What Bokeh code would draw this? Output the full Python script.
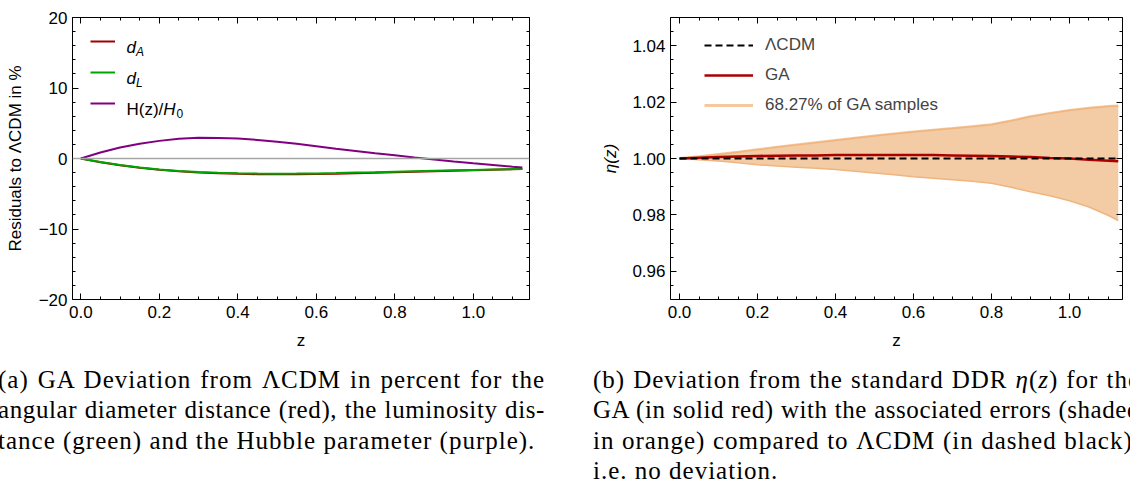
from bokeh.plotting import figure
from bokeh.models import (Range1d, LinearAxis, FixedTicker, Span, Legend, LegendItem, Label, Div,
                          PrintfTickFormatter)
from bokeh.layouts import column, row
from bokeh.embed import file_html
from bokeh.resources import INLINE

# ---------------- data: panel (a) ----------------
z_a = [0.0, 0.05, 0.1, 0.15, 0.2, 0.25, 0.3, 0.35, 0.4, 0.45, 0.5, 0.55, 0.6,
       0.65, 0.7, 0.75, 0.8, 0.85, 0.9, 0.95, 1.0, 1.05, 1.1, 1.125]
res_dA = [0.0, -0.52, -0.95, -1.31, -1.6, -1.82, -1.99, -2.1, -2.18, -2.22, -2.24, -2.23,
          -2.2, -2.15, -2.09, -2.02, -1.95, -1.88, -1.81, -1.74, -1.67, -1.6, -1.53, -1.5]
res_dL = [0.0, -0.5, -0.92, -1.27, -1.55, -1.76, -1.92, -2.03, -2.1, -2.14, -2.15, -2.14,
          -2.11, -2.06, -2.0, -1.94, -1.87, -1.8, -1.74, -1.68, -1.62, -1.56, -1.5, -1.48]
res_H = [0.0, 0.85, 1.55, 2.1, 2.5, 2.8, 2.95, 2.92, 2.82, 2.63, 2.38, 2.08, 1.73,
         1.38, 1.07, 0.76, 0.46, 0.14, -0.14, -0.41, -0.67, -0.92, -1.17, -1.29]

# ---------------- data: panel (b) ----------------
z_b = [0.0, 0.05, 0.1, 0.15, 0.2, 0.25, 0.3, 0.35, 0.4, 0.45, 0.5, 0.55, 0.6,
       0.65, 0.7, 0.75, 0.8, 0.85, 0.9, 0.95, 1.0, 1.05, 1.1, 1.125]
eta_ga = [1.0, 1.0003, 1.0005, 1.0007, 1.0009, 1.001, 1.0011, 1.0011, 1.0012, 1.0012, 1.0012,
          1.0012, 1.0012, 1.0012, 1.0011, 1.001, 1.0009, 1.0007, 1.0005, 1.0002, 1.0, 0.9996,
          0.9992, 0.999]
eta_up = [1.0, 1.0006, 1.0014, 1.0022, 1.0031, 1.004, 1.0048, 1.0056, 1.0064, 1.0072, 1.008,
          1.0087, 1.0094, 1.01, 1.0106, 1.0113, 1.012, 1.0133, 1.0148, 1.016, 1.017, 1.0178,
          1.0184, 1.0186]
eta_lo = [1.0, 0.9996, 0.9991, 0.9985, 0.9978, 0.9973, 0.9969, 0.9965, 0.9961, 0.9955, 0.9949,
          0.9942, 0.9935, 0.993, 0.9925, 0.9919, 0.9912, 0.9898, 0.9882, 0.9868, 0.985, 0.9828,
          0.9798, 0.978]
z_lcdm = [0.0, 1.125]
eta_lcdm = [1.0, 1.0]

x_major = [0.0, 0.2, 0.4, 0.6, 0.8, 1.0]
x_minor = [round(0.05 * i, 2) for i in range(0, 23)]
ya_major = [-20, -10, 0, 10, 20]
ya_minor = list(range(-20, 21, 2))
yb_major = [0.96, 0.98, 1.00, 1.02, 1.04]
yb_minor = [round(0.95 + 0.005 * i, 3) for i in range(0, 21)]

FONT = "Liberation Sans"
FS = "17px"


def style(p, xmaj, xmin, ymaj, ymin, xfmt, yfmt, overrides=None):
    p.xgrid.visible = False
    p.ygrid.visible = False
    p.outline_line_color = None
    p.background_fill_color = "white"
    p.border_fill_color = "white"
    bottom = p.below[0]
    left = p.left[0]
    top = LinearAxis(axis_label=None)
    right = LinearAxis(axis_label=None)
    p.add_layout(top, "above")
    p.add_layout(right, "right")
    for ax in (bottom, left, top, right):
        is_x = ax in (bottom, top)
        ax.ticker = FixedTicker(ticks=xmaj if is_x else ymaj, minor_ticks=xmin if is_x else ymin)
        ax.formatter = PrintfTickFormatter(format=xfmt if is_x else yfmt)
        ax.axis_line_color = "black"
        ax.axis_line_width = 1
        ax.major_tick_line_color = "black"
        ax.minor_tick_line_color = "black"
        ax.major_tick_in = 6
        ax.major_tick_out = 0
        ax.minor_tick_in = 3
        ax.minor_tick_out = 0
        ax.major_label_text_font = FONT
        ax.major_label_text_font_size = FS
        ax.major_label_text_color = "black"
        ax.axis_label_text_font = FONT
        ax.axis_label_text_font_size = FS
        ax.axis_label_text_font_style = "normal"
        ax.axis_label_text_color = "black"
    for ax in (top, right):
        ax.major_label_text_color = None
        ax.major_label_text_font_size = "1px"
        ax.major_label_standoff = 0
    bottom.major_label_standoff = 6
    left.major_label_standoff = 5
    if overrides:
        left.major_label_overrides = overrides
    return bottom, left


# ---------------- panel (a) ----------------
fa = figure(width=561, height=357, x_range=Range1d(-0.0211, 1.1432), y_range=Range1d(-20, 20),
            output_backend="svg", toolbar_location=None,
            min_border_left=72, min_border_right=32, min_border_top=17, min_border_bottom=58)
ba, la = style(fa, x_major, x_minor, ya_major, ya_minor, "%.1f", "%d",
               overrides={-20: "\u221220", -10: "\u221210"})
ba.axis_label = "z"
ba.axis_label_standoff = 10
la.axis_label = "Residuals to \u039bCDM in %"
la.axis_label_standoff = 11

fa.add_layout(Span(location=0, dimension="width", line_color="#a6a6a6", line_width=1.5))
r_dA = fa.line(z_a, res_dA, line_color="#a00000", line_width=2)
r_dL = fa.line(z_a, res_dL, line_color="#00a400", line_width=2)
r_H = fa.line(z_a, res_H, line_color="#800080", line_width=2)

leg_a = Legend(items=[LegendItem(label=" ", renderers=[r_dA]),
                      LegendItem(label=" ", renderers=[r_dL]),
                      LegendItem(label=" ", renderers=[r_H])],
               location=(18, 186), glyph_width=25, glyph_height=20, label_height=20,
               spacing=11, padding=0, margin=0, label_text_font_size=FS,
               background_fill_alpha=0, border_line_alpha=0)
fa.add_layout(leg_a)


def lab(p, x, y, t, size=FS, style_="normal"):
    p.add_layout(Label(x=x, y=y, x_units="screen", y_units="screen", text=t,
                       text_font=FONT, text_font_size=size, text_font_style=style_,
                       text_color="black", text_align="left", text_baseline="alphabetic"))


lab(fa, 54, 252, "d", style_="italic")
lab(fa, 63.5, 248, "A", size="12px", style_="italic")
lab(fa, 54, 221, "d", style_="italic")
lab(fa, 63.5, 217, "L", size="12px", style_="italic")
lab(fa, 54, 190, "H(z)/")
lab(fa, 90.8, 190, "H", style_="italic")
lab(fa, 104, 186, "0", size="12px")

# ---------------- panel (b) ----------------
fb = figure(width=569, height=357, x_range=Range1d(-0.0231, 1.1359), y_range=Range1d(0.95, 1.05),
            output_backend="svg", toolbar_location=None,
            min_border_left=109, min_border_right=8, min_border_top=17, min_border_bottom=58)
bb, lb = style(fb, x_major, x_minor, yb_major, yb_minor, "%.1f", "%.2f")
bb.axis_label = "z"
bb.axis_label_standoff = 10
lb.axis_label = "\u03b7(z)"
lb.axis_label_text_font_style = "italic"
lb.axis_label_standoff = 9

r_band_key = fb.line(z_b, eta_up, line_color="#f5c89e", line_width=3)
fb.varea(x=z_b, y1=eta_lo, y2=eta_up, fill_color="#f3cba5", fill_alpha=1)
fb.line(z_b, eta_up, line_color="#f0b57f", line_width=1.5)
fb.line(z_b, eta_lo, line_color="#f0b57f", line_width=1.5)
r_ga = fb.line(z_b, eta_ga, line_color="#aa0000", line_width=2.5)
r_l = fb.line(z_lcdm, eta_lcdm, line_color="black", line_width=2, line_dash="7 4")

leg_b = Legend(items=[LegendItem(label="\u039bCDM", renderers=[r_l]),
                      LegendItem(label="GA", renderers=[r_ga]),
                      LegendItem(label="68.27% of GA samples", renderers=[r_band_key])],
               location=(34, 184), glyph_width=49, glyph_height=20, label_height=20,
               spacing=10, padding=0, margin=0, label_standoff=12,
               label_text_font=FONT, label_text_font_size=FS,
               background_fill_alpha=0, border_line_alpha=0)
fb.add_layout(leg_b)

# ---------------- captions ----------------
cap_a = ["(a) GA Deviation from \u039bCDM in percent for the",
         "angular diameter distance (red), the luminosity dis-",
         "tance (green) and the Hubble parameter (purple)."]
cap_b = ["(b) Deviation from the standard DDR <i>\u03b7</i>(<i>z</i>) for the",
         "GA (in solid red) with the associated errors (shaded",
         "in orange) compared to \u039bCDM (in dashed black),",
         "i.e. no deviation."]
ls_a = [1.0, 0.6, 1.0]
ls_b = [1.0, 0.55, 1.0, 1.0]


def cap_html(lines, spacings, inner_w, outer_w, shift):
    parts = []
    for i, t in enumerate(lines):
        last = i == len(lines) - 1
        al = "text-align:left;" if last else "text-align:justify;text-align-last:justify;"
        parts.append(f'<div style="{al}letter-spacing:{spacings[i]}px;">{t}</div>')
    return (f'<div style="width:{outer_w}px;overflow-x:clip;margin-left:{shift}px;">'
            f'<div style="width:{inner_w}px;font-family:\'Liberation Serif\',serif;font-size:25px;'
            f'line-height:30.3px;color:black;margin-top:3px;">' + "".join(parts) + "</div></div>")


div_a = Div(text=cap_html(cap_a, ls_a, 547, 560, -7), width=578, height=110)
div_b = Div(text=cap_html(cap_b, ls_b, 547, 537, 0), width=532, height=110)

layout = column(row(fa, fb), row(div_a, div_b))
open("out.html", "w").write(file_html(layout, INLINE))
